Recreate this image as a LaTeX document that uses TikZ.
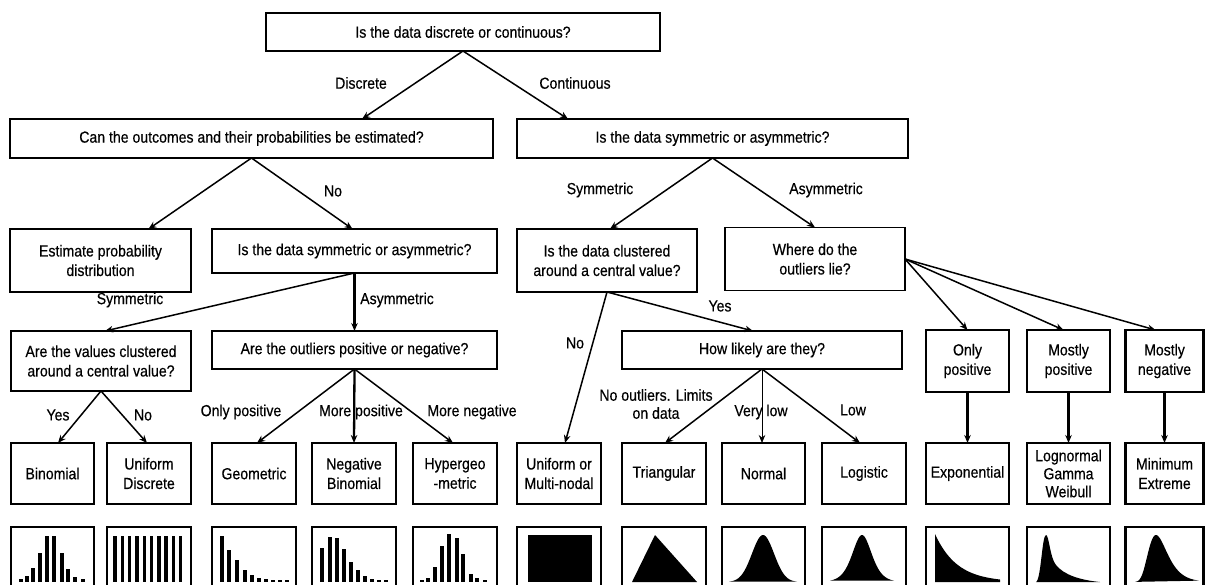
\documentclass[tikz,border=0pt]{standalone}
\usepackage{fontspec}
\setmainfont{Liberation Sans}[FakeStretch=0.88, FakeBold=0.4]
\usetikzlibrary{arrows.meta, calc}

\begin{document}
\begin{tikzpicture}[
  x=1pt, y=-1pt,
  font=\fontsize{16}{19.5}\selectfont,
  domanda/.style={draw=black, line width=1.4pt, fill=white, align=center,
                  inner sep=2pt, outer sep=0pt},
  esito/.style={domanda, line width=2.2pt, minimum width=84pt, minimum height=61pt},
  riquadro/.style={draw=black, line width=2.2pt},
  freccia/.style={draw=black, line width=1.5pt, -{Stealth[length=8pt,width=6.5pt]}},
  grossa/.style={freccia, line width=2.3pt},
  sottile/.style={freccia, line width=0.8pt},
  etichetta/.style={inner sep=1pt}
]

\useasboundingbox (0,0) rectangle (1206,585);
\clip (0,0) rectangle (1206,585);

% ---- domande -------------------------------------------------------
\node[domanda, minimum width=394pt, minimum height=38pt] (tipo) at (463,32)
  {Is the data discrete or continuous?};
\node[domanda, minimum width=483pt, minimum height=39pt] (stimabili) at (251.5,138.5)
  {Can the outcomes and their probabilities be estimated?};
\node[domanda, minimum width=391pt, minimum height=39pt] (simmC) at (712.5,138.5)
  {Is the data symmetric or asymmetric?};

\node[domanda, minimum width=181pt, minimum height=63pt] (stima) at (100.5,260.5)
  {Estimate probability\\distribution};
\node[domanda, minimum width=285pt, minimum height=44pt] (simmD) at (354.5,251)
  {Is the data symmetric or asymmetric?};
\node[domanda, minimum width=180pt, minimum height=63pt] (raggrC) at (607,260.5)
  {Is the data clustered\\around a central value?};
\node[domanda, minimum width=180pt, minimum height=63pt] (outlierC) at (815,259)
  {Where do the\\outliers lie?};

\node[domanda, minimum width=180pt, minimum height=60pt] (raggrD) at (101,361)
  {Are the values clustered\\around a central value?};
\node[domanda, minimum width=285pt, minimum height=38pt] (segnoD) at (354.5,350)
  {Are the outliers positive or negative?};
\node[domanda, minimum width=280pt, minimum height=38pt] (probab) at (762,350)
  {How likely are they?};
\node[esito, minimum width=83pt, minimum height=62pt] (soloPos) at (967.5,361)
  {Only\\positive};
\node[esito, minimum width=83pt, minimum height=62pt] (moltoPos) at (1068.5,361)
  {Mostly\\positive};
\node[esito, minimum width=78pt, minimum height=62pt] (moltoNeg) at (1164.5,361)
  {Mostly\\negative};

% ---- distribuzioni -------------------------------------------------
\node[esito, minimum width=83pt] (binomiale)    at (52.5,473.5)  {Binomial};
\node[esito]                     (unifDiscreta) at (149,473.5)   {Uniform\\Discrete};
\node[esito]                     (geometrica)   at (254,473.5)   {Geometric};
\node[esito]                     (binNegativa)  at (354,473.5)   {Negative\\Binomial};
\node[esito]                     (ipergeom)     at (455,473.5)   {Hypergeo\\-metric};
\node[esito]                     (unifMulti)    at (559,473.5)   {Uniform or\\Multi-nodal};
\node[esito]                     (triangolare)  at (664,473.5)   {Triangular};
\node[esito, minimum width=83pt] (normale)      at (763.5,473.5) {Normal};
\node[esito]                     (logistica)    at (864,473.5)   {Logistic};
\node[esito, minimum width=83pt] (esponenziale) at (967.5,473.5) {Exponential};
\node[esito, minimum width=83pt, font=\fontsize{16}{18}\selectfont]
                                 (lognormale)   at (1068.5,473.5){Lognormal\\Gamma\\Weibull};
\node[esito, minimum width=78pt] (minimo)       at (1164.5,473.5){Minimum\\Extreme};

% riquadri dei grafici, tagliati dal bordo inferiore
\foreach \n in {binomiale,unifDiscreta,geometrica,binNegativa,ipergeom,unifMulti,
                triangolare,normale,logistica,esponenziale,lognormale,minimo}
  \draw[riquadro] ($(\n.south west)+(0,23)$) rectangle ($(\n.south east)+(0,100)$);

% ---- grafici: discrete ---------------------------------------------
\foreach \x/\h in {21/3,27/6,33/14,40/29,47/46,54/46,62/29,68/13,75/5,83/3}
  \fill (\x-1.6,582) rectangle (\x+1.6,582-\h);
\foreach \x in {115,122.3,129.6,136.9,144.2,151.5,158.8,166.1,173.4,180.7}
  \fill (\x-1.7,582) rectangle (\x+1.7,536);
\foreach \x/\h in {222/46,229/32,237/22,245/12,252/7,259/4,266/3,273/2,280/2,287/2}
  \fill (\x-1.6,582) rectangle (\x+1.6,582-\h);
\foreach \x/\h in {322/34,330/45,337/44,344/33,351/20,358/12,365/6,372/3,379/2,386/2}
  \fill (\x-1.6,582) rectangle (\x+1.6,582-\h);
\foreach \x/\h in {422/2,428/4,435/15,442/36,449/48,457/44,463/28,471/8,477/4,485/2}
  \fill (\x-1.6,582) rectangle (\x+1.6,582-\h);

% ---- grafici: continue ---------------------------------------------
\fill (528,535) rectangle (592,582);
\fill (632,582) -- (655,535) -- (697,582) -- cycle;
\fill plot[domain=729:797, samples=60] (\x,{582-47*exp(-((\x-763)^2)/242)}) -- cycle;
\fill plot[domain=830:894, samples=60]
  (\x,{582-47/(cosh((\x-862)/13))^2}) -- cycle;
\fill (935,582) -- (935,534) -- plot[domain=935:1000, samples=50]
  (\x,{582-48*exp(-(\x-935)/22)}) -- (1000,582) -- cycle;
\fill (1036,582) .. controls (1041,580) and (1042,535) .. (1046,535)
  .. controls (1049,535) and (1050,558) .. (1056,565)
  .. controls (1064,575) and (1080,580) .. (1100,582) -- cycle;
\fill plot[domain=1135:1199, samples=60]
  (\x,{582-47*exp(1-(\x-1156)/9.5-exp(-(\x-1156)/9.5))}) -- cycle;

% ---- collegamenti --------------------------------------------------
\draw[freccia] (tipo.south) -- ([xshift=110.5]stimabili.north);
\draw[freccia] (tipo.south) -- ([xshift=-144.5]simmC.north);
\draw[freccia] (stimabili.south) -- ([xshift=48]stima.north);
\draw[freccia] (stimabili.south) -- ([xshift=-2]simmD.north);
\draw[freccia] (simmC.south) -- ([xshift=3]raggrC.north);
\draw[freccia] (simmC.south) -- (outlierC.north);

\draw[freccia] (simmD.south) -- ([xshift=4]raggrD.north);
\draw[grossa]  (simmD.south) -- (segnoD.north);
\draw[freccia] (raggrC.south) -- ([xshift=6]unifMulti.north);
\draw[freccia] (raggrC.south) -- ([xshift=-9]probab.north);
\draw[freccia] (outlierC.east) -- (soloPos.north);
\draw[freccia] (outlierC.east) -- ([xshift=-5]moltoPos.north);
\draw[freccia] (outlierC.east) -- ([xshift=-9]moltoNeg.north);

\draw[freccia] (raggrD.south) -- ([xshift=5.5]binomiale.north);
\draw[freccia] (raggrD.south) -- ([xshift=-2]unifDiscreta.north);
\draw[freccia] (segnoD.south) -- ([xshift=3]geometrica.north);
\draw[grossa]  (segnoD.south) -- (binNegativa.north);
\draw[freccia] (segnoD.south) -- ([xshift=-2]ipergeom.north);
\draw[freccia] (probab.south) -- ([xshift=1]triangolare.north);
\draw[sottile] (probab.south) -- (probab.south |- normale.north);
\draw[freccia] (probab.south) -- ([xshift=-4]logistica.north);
\draw[grossa]  (soloPos.south) -- (esponenziale.north);
\draw[grossa]  (moltoPos.south) -- (lognormale.north);
\draw[grossa]  (moltoNeg.south) -- (minimo.north);

% ---- etichette -----------------------------------------------------
\node[etichetta] (lDiscreto)  at (361,83)  {Discrete};
\node[etichetta] (lContinuo)  at (575,83)  {Continuous};
\node[etichetta] (lNoStima)   at (333,191) {No};
\node[etichetta] (lSimmC)     at (600,190) {Symmetric};
\node[etichetta] (lAsimmC)    at (826,190) {Asymmetric};
\node[etichetta] (lSimmD)     at (130,300) {Symmetric};
\node[etichetta] (lAsimmD)    at (397,300) {Asymmetric};
\node[etichetta] (lNoRaggr)   at (575,343) {No};
\node[etichetta] (lSiRaggr)   at (720,306) {Yes};
\node[etichetta] (lSi)        at (58,415)  {Yes};
\node[etichetta] (lNo)        at (143,415) {No};
\node[etichetta] (lSoloPos)   at (241,412) {Only positive};
\node[etichetta] (lPiuPos)    at (361,412) {More positive};
\node[etichetta] (lPiuNeg)    at (472,412) {More negative};
\node[etichetta, align=center, font=\fontsize{16}{18}\selectfont]
                 (lNoOutlier) at (656,404) {No outliers. Limits\\on data};
\node[etichetta] (lMoltoBassa) at (761,412) {Very low};
\node[etichetta] (lBassa)     at (853,410) {Low};

\end{tikzpicture}
\end{document}
